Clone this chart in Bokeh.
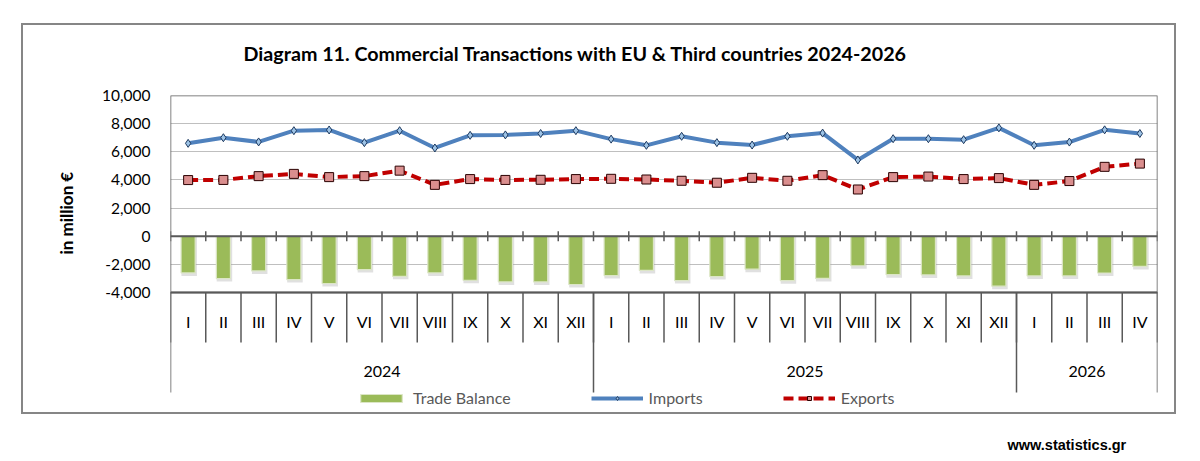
from bokeh.plotting import figure
from bokeh.models import (FactorRange, Range1d, FixedTicker, NumeralTickFormatter,
                          Span, Title, Legend, LegendItem, ColumnDataSource, InlineStyleSheet)
from bokeh.core.properties import value
from bokeh.transform import dodge
from bokeh.embed import file_html
from bokeh.resources import INLINE

# ---------------- data ----------------
months = ["I", "II", "III", "IV", "V", "VI", "VII", "VIII", "IX", "X", "XI", "XII"]
year_labels = ["2024", "2025", "2026"]
months_per_year = [12, 12, 4]

imports = [6600, 7000, 6700, 7500, 7550, 6650, 7500, 6270, 7170, 7200, 7300, 7500,
           6900, 6460, 7100, 6650, 6480, 7100, 7330, 5420, 6930, 6930, 6860, 7700,
           6460, 6690, 7560, 7300]
exports = [3990, 4000, 4270, 4430, 4200, 4270, 4660, 3650, 4060, 4000, 4010, 4060,
           4080, 4030, 3940, 3800, 4150, 3940, 4340, 3320, 4200, 4240, 4060, 4130,
           3650, 3920, 4930, 5160]
trade_balance = [-2610, -3010, -2470, -3080, -3360, -2370, -2850, -2610, -3130, -3250, -3250, -3430,
                 -2800, -2430, -3150, -2870, -2340, -3160, -3000, -2100, -2730, -2750, -2820, -3550,
                 -2820, -2820, -2615, -2150]
y_ticks = [-4000, -2000, 0, 2000, 4000, 6000, 8000, 10000]

title = "Diagram 11. Commercial Transactions with EU & Third countries 2024-2026"
y_title = "in million  \u20ac"
legend_labels = ["Trade Balance", "Imports", "Exports"]
footer = "www.statistics.gr"

# ---------------- layout (pixels) ----------------
W, H = 1200, 461
frame_left, frame_right = 170, 1157
frame_top, frame_bottom = 95, 425
value_px = 197                      # pixel height of the value axis (-4000 .. 10000)
upp = (y_ticks[-1] - y_ticks[0]) / value_px   # data units per pixel
y_start = y_ticks[0] - (frame_bottom - frame_top - value_px) * upp

factors = [(yr, m) for yr, n in zip(year_labels, months_per_year) for m in months[:n]]
n_cat = len(factors)

x_range = FactorRange(factors=factors, factor_padding=0, group_padding=0,
                      subgroup_padding=0, range_padding=0)

p = figure(width=W, height=H, x_range=x_range, y_range=Range1d(y_start, y_ticks[-1]),
           x_axis_location=None, output_backend="svg", toolbar_location=None,
           min_border_left=frame_left, min_border_right=W - frame_right,
           min_border_top=frame_top, min_border_bottom=H - frame_bottom)
p.outline_line_color = None
p.background_fill_color = "white"
p.border_fill_color = "white"

# outer chart border (drawn by the page, around the chart area)
p.stylesheets = [InlineStyleSheet(css=(
    ":host { position: relative; }"
    ":host::after { content: ''; position: absolute; left: 21px; top: 23px;"
    " width: 1155px; height: 391px; border: 2.5px solid #868686;"
    " box-sizing: border-box; pointer-events: none; }"))]

# title
p.title.text = title
p.title.text_font = "Lato"
p.title.text_font_style = "bold"
p.title.text_font_size = "19.7px"
p.title.text_color = "#000000"
p.title.align = "left"
p.title.offset = 73
p.title.standoff = 62

# y axis
ticker = FixedTicker(ticks=y_ticks)
p.yaxis.ticker = ticker
p.yaxis.formatter = NumeralTickFormatter(format="0,0")
p.yaxis.axis_line_color = None
p.yaxis.major_tick_line_color = None
p.yaxis.minor_tick_line_color = None
p.yaxis.major_tick_out = 0
p.yaxis.major_tick_in = 0
p.yaxis.major_label_standoff = 20
p.yaxis.major_label_text_font = "Lato"
p.yaxis.major_label_text_font_size = "15.5px"
p.yaxis.major_label_text_color = "#000000"
p.ygrid.ticker = ticker
p.ygrid.grid_line_color = "#BFBFBF"
p.ygrid.grid_line_width = 1
p.xgrid.visible = False

# y axis title (vertical, in the left panel)
p.add_layout(Title(text=y_title, align="left", offset=frame_bottom - 254, standoff=45,
                   text_font="Lato", text_font_style="bold", text_font_size="17px",
                   text_color="#000000"), "left")

# footer (below panel)
p.add_layout(Title(text=footer, align="left", offset=837, standoff=18,
                   text_font="Liberation Sans", text_font_style="bold",
                   text_font_size="14.5px", text_color="#000000"), "below")

src = ColumnDataSource(dict(x=factors, imports=imports, exports=exports, tb=trade_balance))

# bars (with a soft shadow underneath, as in the original)
p.vbar(x=dodge("x", 0.03, range=x_range), top=0, bottom=dodge("tb", -3 * upp), width=0.44,
       source=src, fill_color="#A6A6A6", fill_alpha=0.35, line_color=None)
bars = p.vbar(x="x", top=0, bottom="tb", width=0.40, source=src,
              fill_color="#9BBB59", line_color="#DCE6C6", line_width=1.2)

# plot-area border and axis lines
p.quad(left=[0], right=[n_cat], bottom=[y_ticks[0]], top=[y_ticks[-1]],
       fill_color=None, line_color="#595959", line_width=1.5)
p.add_layout(Span(location=0, dimension="width", line_color="#595959", line_width=2))
p.add_layout(Span(location=y_ticks[0], dimension="width", line_color="#595959", line_width=2))

# ticks crossing the zero line
bounds = list(range(n_cat + 1))
tick_half = 5 * upp
p.segment(x0=bounds, x1=bounds, y0=[tick_half] * len(bounds), y1=[-tick_half] * len(bounds),
          line_color="#595959", line_width=1.5)

# category separators below the plot area
month_sep_bottom = y_ticks[0] - 50 * upp
year_sep_bottom = y_ticks[0] - 100 * upp
p.segment(x0=bounds, x1=bounds, y0=[y_ticks[0]] * len(bounds), y1=[month_sep_bottom] * len(bounds),
          line_color="#595959", line_width=1.5)
year_bounds = [0]
for n in months_per_year:
    year_bounds.append(year_bounds[-1] + n)
p.segment(x0=year_bounds, x1=year_bounds, y0=[y_ticks[0]] * len(year_bounds),
          y1=[year_sep_bottom] * len(year_bounds), line_color="#595959", line_width=1.5)

# category labels
month_y = y_ticks[0] - 29 * upp
p.text(x=factors, y=[month_y] * n_cat, text=[m for _, m in factors],
       text_font=value("Lato"), text_font_size="16px", text_align="center",
       text_baseline="middle", text_color="#000000")
year_centers = [(a + b) / 2 for a, b in zip(year_bounds[:-1], year_bounds[1:])]
year_y = y_ticks[0] - 78.5 * upp
p.text(x=year_centers, y=[year_y] * len(year_labels), text=year_labels,
       text_font=value("Lato"), text_font_size="16px", text_align="center",
       text_baseline="middle", text_color="#000000")

# lines
imp_line = p.line(x="x", y="imports", source=src, line_color="#4F81BD", line_width=4,
                  line_join="round")
imp_pts = p.scatter(x="x", y="imports", source=src, marker="diamond", size=8,
                    fill_color="#9DC3E6", line_color="#1F3A5F", line_width=1)
exp_line = p.line(x="x", y="exports", source=src, line_color="#C00000", line_width=4,
                  line_dash="10 5")
exp_pts = p.scatter(x="x", y="exports", source=src, marker="square", size=9,
                    fill_color="#DA8E8E", line_color="#2B0000", line_width=1)

legend = Legend(items=[LegendItem(label=legend_labels[0], renderers=[bars]),
                       LegendItem(label=legend_labels[1], renderers=[imp_line, imp_pts]),
                       LegendItem(label=legend_labels[2], renderers=[exp_line, exp_pts])],
                orientation="horizontal", location=(185, 18), glyph_width=52, glyph_height=10,
                label_standoff=6, spacing=80, padding=0, margin=0, border_line_color=None,
                background_fill_alpha=0, label_text_font="Lato", label_text_font_size="16px",
                label_text_color="#595959", label_height=10)
p.add_layout(legend)

open("out.html", "w").write(file_html(p, INLINE))
